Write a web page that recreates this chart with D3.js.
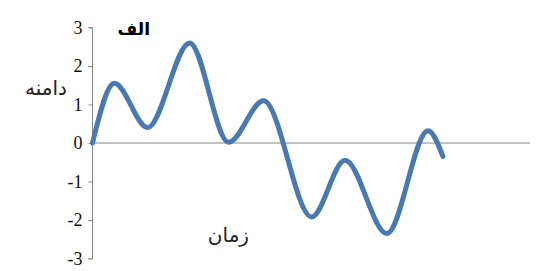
<!DOCTYPE html>
<html>
<head>
<meta charset="utf-8">
<script src="https://cdn.jsdelivr.net/npm/d3@7"></script>
<style>
  body { margin: 0; background: #fff; }
  svg { display: block; }
</style>
</head>
<body>
<svg></svg>
<script>
// time (arbitrary units) and amplitude at the turning points
var times = [0, 5.0, 12.6, 22.2, 31.1, 39.1, 50.1, 57.7, 67.3, 76.7, 80.1];
var amps  = [0, 1.55, 0.4, 2.6, 0.02, 1.1, -1.92, -0.45, -2.35, 0.32, -0.35];
var yTicks = [-3, -2, -1, 0, 1, 2, 3];
var title = "الف";
var yLabel = "دامنه";
var xLabel = "زمان";

var width = 538;
var height = 271;

var data = times.map((t, i) => ({t: t, a: amps[i]}));

var x = d3.scaleLinear().domain([0, 100]).range([92.5, 530]);
var y = d3.scaleLinear().domain([-3, 3]).range([258.5, 27.5]);

var svg = d3.select("svg")
    .attr("width", width)
    .attr("height", height);

// y axis, ticks on the left
var yAxis = d3.axisLeft(y)
    .tickValues(yTicks)
    .tickSize(4)
    .tickFormat(d => String(d));

var gy = svg.append("g")
    .attr("transform", "translate(" + x(0) + ",0)")
    .call(yAxis);
gy.select(".domain").attr("stroke", "#868686").attr("d", "M-4," + y(-3) + "H0V" + y(3) + "H-4");
gy.selectAll(".tick line").attr("stroke", "#868686");
gy.selectAll(".tick text")
    .attr("x", -10)
    .style("font-family", "'Liberation Serif', 'Times New Roman', serif")
    .style("font-size", "18px")
    .attr("fill", "#111");

// horizontal zero line
svg.append("line")
    .attr("x1", x(0)).attr("x2", x(100))
    .attr("y1", y(0)).attr("y2", y(0))
    .attr("stroke", "#868686")
    .attr("stroke-width", 1.2);

var line = d3.line()
    .x(d => x(d.t))
    .y(d => y(d.a))
    .curve(d3.curveMonotoneX);

svg.append("path")
    .datum(data)
    .attr("fill", "none")
    .attr("stroke", "#4a78b0")
    .attr("stroke-width", 5)
    .attr("stroke-linecap", "round")
    .attr("d", line);

svg.append("text")
    .attr("x", 150).attr("y", 35)
    .attr("text-anchor", "end")
    .style("font-family", "'DejaVu Sans', sans-serif")
    .style("font-weight", "bold")
    .style("font-size", "17px")
    .text(title);

svg.append("text")
    .attr("x", 67).attr("y", 95)
    .attr("text-anchor", "end")
    .style("font-family", "'DejaVu Sans', sans-serif")
    .style("font-size", "20px")
    .attr("fill", "#222")
    .text(yLabel);

svg.append("text")
    .attr("x", 249).attr("y", 242)
    .attr("text-anchor", "end")
    .style("font-family", "'DejaVu Sans', sans-serif")
    .style("font-size", "20px")
    .attr("fill", "#222")
    .text(xLabel);
</script>
</body>
</html>
